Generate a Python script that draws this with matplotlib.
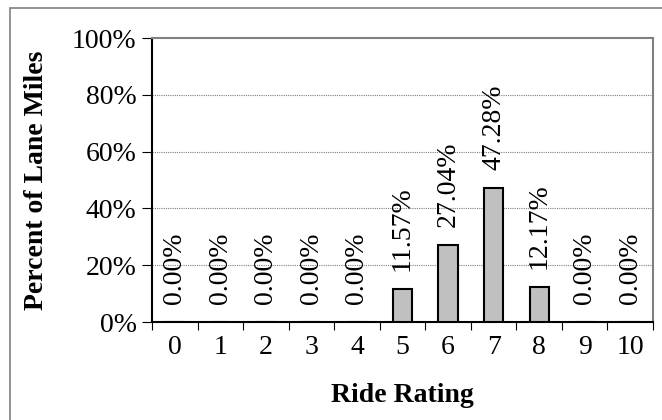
import numpy as np
import matplotlib.pyplot as plt
from matplotlib.patches import Rectangle

# data
ratings = ['0', '1', '2', '3', '4', '5', '6', '7', '8', '9', '10']
percent = [0.00, 0.00, 0.00, 0.00, 0.00, 11.57, 27.04, 47.28, 12.17, 0.00, 0.00]
yticks = [0, 20, 40, 60, 80, 100]

plt.rcParams['font.family'] = ['Liberation Serif', 'DejaVu Serif']
fs = 20

fig = plt.figure(figsize=(6.62, 4.2), dpi=100)
ax = fig.add_axes([152 / 662, 1 - 322 / 420, (653 - 152) / 662, (322 - 38) / 420])

# outer chart border (cut at right/bottom like the source)
fig.patches.append(Rectangle((10 / 662, -0.1), 1.1, 1 - 8 / 420 + 0.1,
                             transform=fig.transFigure, fill=False,
                             edgecolor='#808080', linewidth=1.2))

x = np.arange(len(ratings))
ax.bar(x, percent, width=0.42, color='#c0c0c0', edgecolor='black', linewidth=1.5, zorder=3)

for xi, v in zip(x, percent):
    ax.annotate(f'{v:.2f}%', (xi, v), xytext=(0, 13), textcoords='offset points',
                rotation=90, ha='center', va='bottom', fontsize=fs, zorder=4)

ax.set_xlim(-0.5, len(ratings) - 0.5)
ax.set_ylim(0, 100)
ax.set_yticks(yticks)
ax.set_yticklabels([f'{t}%' for t in yticks], fontsize=fs)
ax.set_xticks(x)
ax.set_xticklabels(ratings, fontsize=fs)
ax.set_xticks(np.arange(-0.5, len(ratings)), minor=True)
ax.tick_params(axis='x', which='major', length=0, pad=9)
ax.tick_params(axis='x', which='minor', length=6, width=0.8, direction='out')
ax.tick_params(axis='y', length=7, width=0.8, direction='out', pad=4)

for y in yticks[1:-1]:
    ax.axhline(y, color='#808080', linestyle=(0, (1, 1)), linewidth=0.8, zorder=1)

ax.spines['left'].set_linewidth(1.5)
ax.spines['bottom'].set_linewidth(1.5)
ax.spines['top'].set_color('#808080')
ax.spines['right'].set_color('#808080')
ax.spines['top'].set_linewidth(1.5)
ax.spines['right'].set_linewidth(1.5)

ax.set_xlabel('Ride Rating', fontsize=fs, fontweight='bold')
ax.set_ylabel('Percent of Lane Miles', fontsize=fs, fontweight='bold')
ax.xaxis.set_label_coords(0.5, -0.215)
ax.yaxis.set_label_coords(-0.206, 0.5)

fig.savefig('out.png', dpi=100)
